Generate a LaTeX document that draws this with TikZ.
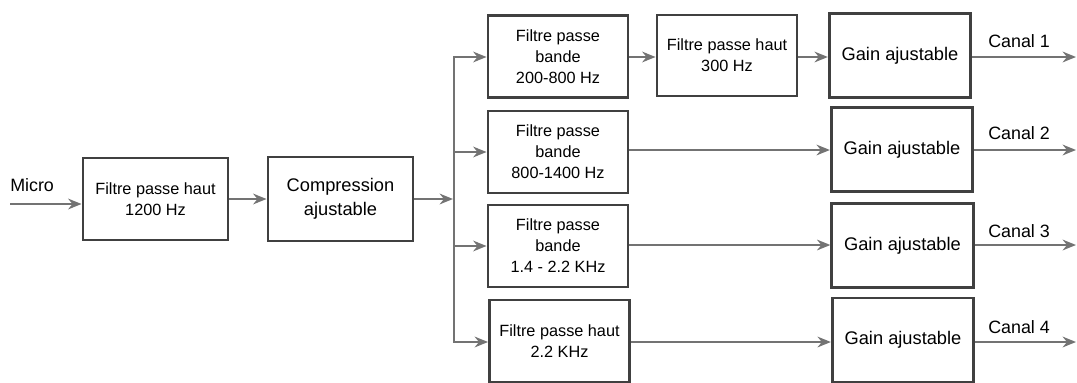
\documentclass[tikz,border=0pt]{standalone}
\usepackage{fontspec}
\setmainfont{Liberation Sans}
\usetikzlibrary{arrows.meta}
\begin{document}
\begin{tikzpicture}[x=0.75pt,y=-0.75pt,
  blk/.style={draw=black!75, line width=2.2pt, fill=white, inner sep=2pt, align=center},
  filt/.style={blk, minimum width=105pt, minimum height=61.5pt, font=\fontsize{12.2}{15.75}\selectfont},
  gainb/.style={blk, minimum width=106pt, minimum height=63pt, font=\fontsize{13.7}{18}\selectfont},
  lbl/.style={font=\fontsize{13.4}{16}\selectfont, inner sep=0pt},
  conn/.style={draw=black!55, line width=2.1pt, -{Stealth[length=10pt,width=8pt]}},
  busl/.style={draw=black!55, line width=2.1pt}]
\useasboundingbox (0,0) rectangle (1077,382);
% first chain
\node[blk, minimum width=108.75pt, minimum height=61.5pt, font=\fontsize{12.2}{15.75}\selectfont] (hp) at (155.5,199) {Filtre passe haut\\1200 Hz};
\node[blk, minimum width=108.75pt, minimum height=63pt, font=\fontsize{13.7}{18}\selectfont] (comp) at (340.5,199) {Compression\\ajustable};
% filters
\node[filt] (f1) at (558,56.5) {Filtre passe\\bande\\200-800 Hz};
\node[filt] (f2) at (558,152) {Filtre passe\\bande\\800-1400 Hz};
\node[filt] (f3) at (558,246) {Filtre passe\\bande\\1.4 - 2.2 KHz};
\node[filt] (f4) at (559.5,341) {Filtre passe haut\\2.2 KHz};
\node[filt, minimum height=60.75pt] (h300) at (727,55.5) {Filtre passe haut\\300 Hz};
% gains
\node[gainb] (g1) at (900,55.5) {Gain ajustable};
\node[gainb] (g2) at (902,149.5) {Gain ajustable};
\node[gainb] (g3) at (902.5,245.5) {Gain ajustable};
\node[gainb] (g4) at (903,340) {Gain ajustable};
% labels
\node[lbl, anchor=west] (micro) at (10,185) {Micro};
\node[lbl, anchor=west] (c1) at (988,41) {Canal 1};
\node[lbl, anchor=west] (c2) at (988,133) {Canal 2};
\node[lbl, anchor=west] (c3) at (988,231) {Canal 3};
\node[lbl, anchor=west] (c4) at (988,327) {Canal 4};
% coordinates
\coordinate (in) at (10,204);
\coordinate (bin) at (453,199);
\coordinate (btop) at (454,57);
\coordinate (bbot) at (454,342);
\coordinate (o1) at (1076,57);
\coordinate (o2) at (1076,150);
\coordinate (o3) at (1076,245);
\coordinate (o4) at (1076,342);
% connectors
\draw[conn] (in) -- (in -| hp.west);
\draw[conn] (hp.east |- 0,199) -- (comp.west |- 0,199);
\draw[conn] (comp.east |- bin) -- (bin);
\draw[busl, line cap=rect] (btop) -- (bbot);
\draw[conn] (btop) -- (btop -| f1.west);
\draw[conn] (454,152) -- (f2.west |- 0,152);
\draw[conn] (454,246) -- (f3.west |- 0,246);
\draw[conn] (bbot) -- (bbot -| f4.west);
\draw[conn] (f1.east |- 0,57) -- (h300.west |- 0,57);
\draw[conn] (h300.east |- 0,57) -- (g1.west |- 0,57);
\draw[conn] (f2.east |- o2) -- (g2.west |- o2);
\draw[conn] (f3.east |- o3) -- (g3.west |- o3);
\draw[conn] (f4.east |- o4) -- (g4.west |- o4);
\draw[conn] (g1.east |- o1) -- (o1);
\draw[conn] (g2.east |- o2) -- (o2);
\draw[conn] (g3.east |- o3) -- (o3);
\draw[conn] (g4.east |- o4) -- (o4);
\end{tikzpicture}
\end{document}
